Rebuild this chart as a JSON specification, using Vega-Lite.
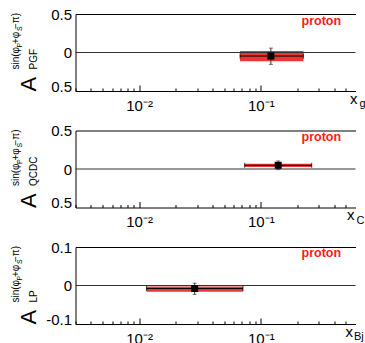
{
  "$schema": "https://vega.github.io/schema/vega-lite/v6.json",
  "background": "white",
  "padding": {"left": 10.5, "top": 7, "right": 0, "bottom": 0},
  "config": {
    "view": {"stroke": null},
    "font": "Liberation Sans",
    "axis": {"grid": false, "labelFont": "Liberation Sans", "titleFont": "Liberation Sans", "titleFontWeight": "normal", "labelColor": "black", "titleColor": "black", "domainColor": "black", "tickColor": "black", "domainWidth": 1, "tickWidth": 1}
  },
  "datasets": {
    "p1": [{"xlo": 0.0675, "xhi": 0.224, "xc": 0.121, "ylo": -0.115, "yhi": 0.019, "yc": -0.046, "elo": -0.154, "ehi": 0.057, "label": "proton"}],
    "p2": [{"xlo": 0.0736, "xhi": 0.262, "xc": 0.139, "ylo": 0.025, "yhi": 0.069, "yc": 0.048, "elo": -0.008, "ehi": 0.104, "label": "proton"}],
    "p3": [{"xlo": 0.0115, "xhi": 0.0714, "xc": 0.0286, "ylo": -0.0163, "yhi": -0.0026, "yc": -0.0079, "elo": -0.023, "ehi": 0.006, "label": "proton"}]
  },
  "spacing": 39.5,
  "bounds": "flush",
  "vconcat": [
    {
      "width": 280, "height": 77,
      "data": {"name": "p1"},
      "resolve": {"axis": {"x": "independent", "y": "independent"}},
      "layer": [
        {"mark": {"type": "rect", "fill": "#ee3535"},
         "encoding": {
           "x": {"field": "xlo", "type": "quantitative", "scale": {"type": "log", "domain": [0.003, 0.6], "nice": false},
                 "axis": {"orient": "bottom", "values": [0.01, 0.1], "labelExpr": "datum.value < 0.05 ? '10⁻²' : '10⁻¹'", "ticks": false, "labelFontSize": 15, "labelPadding": 19, "labelBaseline": "alphabetic", "title": "x", "titleFontSize": 15, "titleX": 274, "titleY": 12, "titleAlign": "left", "titleBaseline": "alphabetic"}},
           "x2": {"field": "xhi"},
           "y": {"field": "ylo", "type": "quantitative", "scale": {"domain": [-0.5, 0.5], "nice": false, "zero": false},
                 "axis": {"orient": "left", "values": [-0.5, 0, 0.5], "labelExpr": "datum.value == 0 ? '0' : '0.5'", "ticks": false, "labelFontSize": 15, "labelPadding": 4, "labelBaseline": {"condition": {"test": "datum.value < 0", "value": "alphabetic"}, "value": "middle"}, "title": "A", "titleFontSize": 22, "titleAngle": 270, "titleX": -40, "titleY": 77, "titleAlign": "left", "titleBaseline": "alphabetic"}},
           "y2": {"field": "yhi"}
         }},
        {"mark": {"type": "rule", "color": "#333333", "strokeWidth": 1},
         "encoding": {"y": {"datum": 0, "type": "quantitative", "axis": null}}},
        {"mark": {"type": "rule", "color": "black", "strokeWidth": 1},
         "encoding": {
           "x": {"field": "xlo", "type": "quantitative", "axis": {"orient": "bottom", "values": [0.01, 0.1], "tickSize": -6, "labels": false, "domain": false, "title": "g", "titleFontSize": 11, "titleX": 283.5, "titleY": 15.5, "titleAlign": "left", "titleBaseline": "alphabetic"}},
           "x2": {"field": "xhi"},
           "y": {"field": "yc", "type": "quantitative", "axis": {"orient": "left", "labels": false, "ticks": false, "domain": false, "title": "PGF", "titleFontSize": 10, "titleAngle": 270, "titleX": -39, "titleY": 55, "titleAlign": "left", "titleBaseline": "alphabetic"}}
         }},
        {"mark": {"type": "rule", "color": "#333333", "strokeWidth": 1},
         "encoding": {
           "x": {"field": "xc", "type": "quantitative", "axis": {"orient": "top", "domain": true, "ticks": false, "labels": false, "title": null}},
           "y": {"field": "elo", "type": "quantitative", "axis": {"orient": "left", "labels": false, "ticks": false, "domain": false, "title": "sin(φ +φ −π)", "titleFontSize": 10, "titleAngle": 270, "titleX": -57, "titleY": 55, "titleAlign": "left", "titleBaseline": "alphabetic"}},
           "y2": {"field": "ehi"}
         }},
        {"mark": {"type": "tick", "orient": "horizontal", "size": 4, "thickness": 1, "color": "#333333"},
         "encoding": {"x": {"field": "xc", "type": "quantitative", "axis": null}, "y": {"field": "elo", "type": "quantitative", "axis": null}}},
        {"mark": {"type": "tick", "orient": "horizontal", "size": 4, "thickness": 1, "color": "#333333"},
         "encoding": {"x": {"field": "xc", "type": "quantitative", "axis": null}, "y": {"field": "ehi", "type": "quantitative", "axis": null}}},
        {"mark": {"type": "tick", "orient": "vertical", "size": 5, "thickness": 1, "color": "black"},
         "encoding": {"x": {"field": "xlo", "type": "quantitative", "axis": null}, "y": {"field": "yc", "type": "quantitative", "axis": null}}},
        {"mark": {"type": "tick", "orient": "vertical", "size": 5, "thickness": 1, "color": "black"},
         "encoding": {"x": {"field": "xhi", "type": "quantitative", "axis": null}, "y": {"field": "yc", "type": "quantitative", "axis": null}}},
        {"mark": {"type": "square", "filled": true, "color": "black", "opacity": 1, "size": 49},
         "encoding": {
           "x": {"field": "xc", "type": "quantitative", "axis": {"orient": "bottom", "values": [0.003, 0.004, 0.005, 0.006, 0.007, 0.008, 0.009, 0.02, 0.03, 0.04, 0.05, 0.06, 0.07, 0.08, 0.09, 0.2, 0.3, 0.4, 0.5], "tickSize": -3, "labels": false, "domain": false, "title": null}},
           "y": {"field": "yc", "type": "quantitative", "axis": {"orient": "left", "labels": false, "ticks": false, "domain": false, "title": "P", "titleFontSize": 7, "titleAngle": 270, "titleX": -54.5, "titleY": 33, "titleAlign": "left", "titleBaseline": "alphabetic"}}
         }},
        {"mark": {"type": "text", "color": "#ff1a1a", "fontWeight": "bold", "fontSize": 12.5, "font": "Liberation Sans", "align": "center", "baseline": "alphabetic"},
         "encoding": {
           "text": {"field": "label"},
           "x": {"datum": 0.314, "type": "quantitative", "axis": null},
           "y": {"datum": 0.355, "type": "quantitative", "axis": {"orient": "left", "labels": false, "ticks": false, "domain": false, "title": "S", "titleFontSize": 7, "titleAngle": 270, "titleX": -54.5, "titleY": 16.5, "titleAlign": "left", "titleBaseline": "alphabetic"}}
         }}
      ]
    },
    {
      "width": 280, "height": 77,
      "data": {"name": "p2"},
      "resolve": {"axis": {"x": "independent", "y": "independent"}},
      "layer": [
        {"mark": {"type": "rect", "fill": "#ee3535"},
         "encoding": {
           "x": {"field": "xlo", "type": "quantitative", "scale": {"type": "log", "domain": [0.003, 0.6], "nice": false},
                 "axis": {"orient": "bottom", "values": [0.01, 0.1], "labelExpr": "datum.value < 0.05 ? '10⁻²' : '10⁻¹'", "ticks": false, "labelFontSize": 15, "labelPadding": 19, "labelBaseline": "alphabetic", "title": "x", "titleFontSize": 15, "titleX": 271, "titleY": 12, "titleAlign": "left", "titleBaseline": "alphabetic"}},
           "x2": {"field": "xhi"},
           "y": {"field": "ylo", "type": "quantitative", "scale": {"domain": [-0.5, 0.5], "nice": false, "zero": false},
                 "axis": {"orient": "left", "values": [-0.5, 0, 0.5], "labelExpr": "datum.value == 0 ? '0' : '0.5'", "ticks": false, "labelFontSize": 15, "labelPadding": 4, "labelBaseline": {"condition": {"test": "datum.value < 0", "value": "alphabetic"}, "value": "middle"}, "title": "A", "titleFontSize": 22, "titleAngle": 270, "titleX": -40, "titleY": 77, "titleAlign": "left", "titleBaseline": "alphabetic"}},
           "y2": {"field": "yhi"}
         }},
        {"mark": {"type": "rule", "color": "#333333", "strokeWidth": 1},
         "encoding": {"y": {"datum": 0, "type": "quantitative", "axis": null}}},
        {"mark": {"type": "rule", "color": "black", "strokeWidth": 1},
         "encoding": {
           "x": {"field": "xlo", "type": "quantitative", "axis": {"orient": "bottom", "values": [0.01, 0.1], "tickSize": -6, "labels": false, "domain": false, "title": "C", "titleFontSize": 11, "titleX": 280.5, "titleY": 15.5, "titleAlign": "left", "titleBaseline": "alphabetic"}},
           "x2": {"field": "xhi"},
           "y": {"field": "yc", "type": "quantitative", "axis": {"orient": "left", "labels": false, "ticks": false, "domain": false, "title": "QCDC", "titleFontSize": 10, "titleAngle": 270, "titleX": -39, "titleY": 55, "titleAlign": "left", "titleBaseline": "alphabetic"}}
         }},
        {"mark": {"type": "rule", "color": "#333333", "strokeWidth": 1},
         "encoding": {
           "x": {"field": "xc", "type": "quantitative", "axis": {"orient": "top", "domain": true, "ticks": false, "labels": false, "title": null}},
           "y": {"field": "elo", "type": "quantitative", "axis": {"orient": "left", "labels": false, "ticks": false, "domain": false, "title": "sin(φ +φ −π)", "titleFontSize": 10, "titleAngle": 270, "titleX": -57, "titleY": 55, "titleAlign": "left", "titleBaseline": "alphabetic"}},
           "y2": {"field": "ehi"}
         }},
        {"mark": {"type": "tick", "orient": "horizontal", "size": 4, "thickness": 1, "color": "#333333"},
         "encoding": {"x": {"field": "xc", "type": "quantitative", "axis": null}, "y": {"field": "elo", "type": "quantitative", "axis": null}}},
        {"mark": {"type": "tick", "orient": "horizontal", "size": 4, "thickness": 1, "color": "#333333"},
         "encoding": {"x": {"field": "xc", "type": "quantitative", "axis": null}, "y": {"field": "ehi", "type": "quantitative", "axis": null}}},
        {"mark": {"type": "tick", "orient": "vertical", "size": 5, "thickness": 1, "color": "black"},
         "encoding": {"x": {"field": "xlo", "type": "quantitative", "axis": null}, "y": {"field": "yc", "type": "quantitative", "axis": null}}},
        {"mark": {"type": "tick", "orient": "vertical", "size": 5, "thickness": 1, "color": "black"},
         "encoding": {"x": {"field": "xhi", "type": "quantitative", "axis": null}, "y": {"field": "yc", "type": "quantitative", "axis": null}}},
        {"mark": {"type": "square", "filled": true, "color": "black", "opacity": 1, "size": 49},
         "encoding": {
           "x": {"field": "xc", "type": "quantitative", "axis": {"orient": "bottom", "values": [0.003, 0.004, 0.005, 0.006, 0.007, 0.008, 0.009, 0.02, 0.03, 0.04, 0.05, 0.06, 0.07, 0.08, 0.09, 0.2, 0.3, 0.4, 0.5], "tickSize": -3, "labels": false, "domain": false, "title": null}},
           "y": {"field": "yc", "type": "quantitative", "axis": {"orient": "left", "labels": false, "ticks": false, "domain": false, "title": "P", "titleFontSize": 7, "titleAngle": 270, "titleX": -54.5, "titleY": 33, "titleAlign": "left", "titleBaseline": "alphabetic"}}
         }},
        {"mark": {"type": "text", "color": "#ff1a1a", "fontWeight": "bold", "fontSize": 12.5, "font": "Liberation Sans", "align": "center", "baseline": "alphabetic"},
         "encoding": {
           "text": {"field": "label"},
           "x": {"datum": 0.314, "type": "quantitative", "axis": null},
           "y": {"datum": 0.36, "type": "quantitative", "axis": {"orient": "left", "labels": false, "ticks": false, "domain": false, "title": "S", "titleFontSize": 7, "titleAngle": 270, "titleX": -54.5, "titleY": 16.5, "titleAlign": "left", "titleBaseline": "alphabetic"}}
         }}
      ]
    },
    {
      "width": 280, "height": 77,
      "data": {"name": "p3"},
      "resolve": {"axis": {"x": "independent", "y": "independent"}},
      "layer": [
        {"mark": {"type": "rect", "fill": "#ee3535"},
         "encoding": {
           "x": {"field": "xlo", "type": "quantitative", "scale": {"type": "log", "domain": [0.003, 0.6], "nice": false},
                 "axis": {"orient": "bottom", "values": [0.01, 0.1], "labelExpr": "datum.value < 0.05 ? '10⁻²' : '10⁻¹'", "ticks": false, "labelFontSize": 15, "labelPadding": 19, "labelBaseline": "alphabetic", "title": "x", "titleFontSize": 15, "titleX": 269.5, "titleY": 12, "titleAlign": "left", "titleBaseline": "alphabetic"}},
           "x2": {"field": "xhi"},
           "y": {"field": "ylo", "type": "quantitative", "scale": {"domain": [-0.1, 0.1], "nice": false, "zero": false},
                 "axis": {"orient": "left", "values": [-0.1, 0, 0.1], "labelExpr": "datum.value == 0 ? '0' : (datum.value > 0 ? '0.1' : '-0.1')", "ticks": false, "labelFontSize": 15, "labelPadding": 4, "labelBaseline": {"condition": {"test": "datum.value < 0", "value": "alphabetic"}, "value": "middle"}, "title": "A", "titleFontSize": 22, "titleAngle": 270, "titleX": -40, "titleY": 77, "titleAlign": "left", "titleBaseline": "alphabetic"}},
           "y2": {"field": "yhi"}
         }},
        {"mark": {"type": "rule", "color": "#333333", "strokeWidth": 1},
         "encoding": {"y": {"datum": 0, "type": "quantitative", "axis": null}}},
        {"mark": {"type": "rule", "color": "black", "strokeWidth": 1},
         "encoding": {
           "x": {"field": "xlo", "type": "quantitative", "axis": {"orient": "bottom", "values": [0.01, 0.1], "tickSize": -6, "labels": false, "domain": false, "title": "Bj", "titleFontSize": 11, "titleX": 278, "titleY": 15.5, "titleAlign": "left", "titleBaseline": "alphabetic"}},
           "x2": {"field": "xhi"},
           "y": {"field": "yc", "type": "quantitative", "axis": {"orient": "left", "labels": false, "ticks": false, "domain": false, "title": "LP", "titleFontSize": 10, "titleAngle": 270, "titleX": -39, "titleY": 55, "titleAlign": "left", "titleBaseline": "alphabetic"}}
         }},
        {"mark": {"type": "rule", "color": "#333333", "strokeWidth": 1},
         "encoding": {
           "x": {"field": "xc", "type": "quantitative", "axis": {"orient": "top", "domain": true, "ticks": false, "labels": false, "title": null}},
           "y": {"field": "elo", "type": "quantitative", "axis": {"orient": "left", "labels": false, "ticks": false, "domain": false, "title": "sin(φ +φ −π)", "titleFontSize": 10, "titleAngle": 270, "titleX": -57, "titleY": 55, "titleAlign": "left", "titleBaseline": "alphabetic"}},
           "y2": {"field": "ehi"}
         }},
        {"mark": {"type": "tick", "orient": "horizontal", "size": 4, "thickness": 1, "color": "#333333"},
         "encoding": {"x": {"field": "xc", "type": "quantitative", "axis": null}, "y": {"field": "elo", "type": "quantitative", "axis": null}}},
        {"mark": {"type": "tick", "orient": "horizontal", "size": 4, "thickness": 1, "color": "#333333"},
         "encoding": {"x": {"field": "xc", "type": "quantitative", "axis": null}, "y": {"field": "ehi", "type": "quantitative", "axis": null}}},
        {"mark": {"type": "tick", "orient": "vertical", "size": 5, "thickness": 1, "color": "black"},
         "encoding": {"x": {"field": "xlo", "type": "quantitative", "axis": null}, "y": {"field": "yc", "type": "quantitative", "axis": null}}},
        {"mark": {"type": "tick", "orient": "vertical", "size": 5, "thickness": 1, "color": "black"},
         "encoding": {"x": {"field": "xhi", "type": "quantitative", "axis": null}, "y": {"field": "yc", "type": "quantitative", "axis": null}}},
        {"mark": {"type": "square", "filled": true, "color": "black", "opacity": 1, "size": 49},
         "encoding": {
           "x": {"field": "xc", "type": "quantitative", "axis": {"orient": "bottom", "values": [0.003, 0.004, 0.005, 0.006, 0.007, 0.008, 0.009, 0.02, 0.03, 0.04, 0.05, 0.06, 0.07, 0.08, 0.09, 0.2, 0.3, 0.4, 0.5], "tickSize": -3, "labels": false, "domain": false, "title": null}},
           "y": {"field": "yc", "type": "quantitative", "axis": {"orient": "left", "labels": false, "ticks": false, "domain": false, "title": "P", "titleFontSize": 7, "titleAngle": 270, "titleX": -54.5, "titleY": 33, "titleAlign": "left", "titleBaseline": "alphabetic"}}
         }},
        {"mark": {"type": "text", "color": "#ff1a1a", "fontWeight": "bold", "fontSize": 12.5, "font": "Liberation Sans", "align": "center", "baseline": "alphabetic"},
         "encoding": {
           "text": {"field": "label"},
           "x": {"datum": 0.314, "type": "quantitative", "axis": null},
           "y": {"datum": 0.074, "type": "quantitative", "axis": {"orient": "left", "labels": false, "ticks": false, "domain": false, "title": "S", "titleFontSize": 7, "titleAngle": 270, "titleX": -54.5, "titleY": 16.5, "titleAlign": "left", "titleBaseline": "alphabetic"}}
         }}
      ]
    }
  ]
}
